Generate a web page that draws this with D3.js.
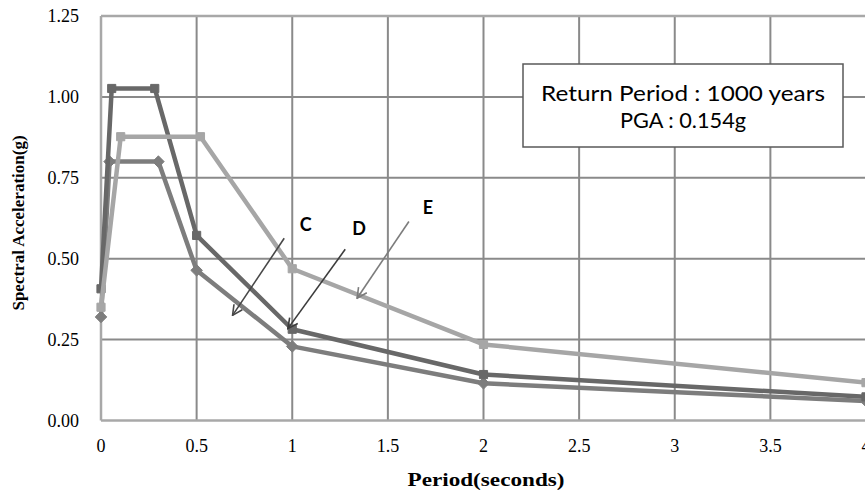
<!DOCTYPE html>
<html>
<head>
<meta charset="utf-8">
<script src="https://cdn.jsdelivr.net/npm/d3@7"></script>
<style>
  body { margin: 0; background: #fff; }
  svg { display: block; }
</style>
</head>
<body>
<div id="container"></div>
<script>
const width = 865,
      height = 493,
      margin = { top: 16, right: -1, bottom: 72, left: 101 };

// periods (s) and spectral acceleration (g) for each site class
const periodC = [0, 0.045, 0.30, 0.5, 1, 2, 4];
const accelC  = [0.32, 0.80, 0.80, 0.464, 0.229, 0.115, 0.060];

const periodD = [0, 0.056, 0.281, 0.5, 1, 2, 4];
const accelD  = [0.407, 1.026, 1.026, 0.572, 0.282, 0.142, 0.073];

const periodE = [0, 0.103, 0.52, 1, 2, 4];
const accelE  = [0.35, 0.877, 0.877, 0.469, 0.235, 0.117];

const xTicks = [0, 0.5, 1, 1.5, 2, 2.5, 3, 3.5, 4];
const yTicks = [0, 0.25, 0.5, 0.75, 1.0, 1.25];

// arrow annotations in data units
const noteLabels = ["C", "D", "E"];
const noteText   = [[1.07, 0.585], [1.35, 0.572], [1.71, 0.637]];
const noteFrom   = [[0.958, 0.563], [1.277, 0.529], [1.61, 0.615]];
const noteTo     = [[0.688, 0.325], [0.977, 0.284], [1.339, 0.378]];

const boxLines = ["Return Period : 1000 years", "PGA : 0.154g"];

const x = d3.scaleLinear()
    .domain([0, 4])
    .range([margin.left, width - margin.right]);

const y = d3.scaleLinear()
    .domain([0, 1.25])
    .range([height - margin.bottom - 0.5, margin.top]);

const svg = d3.select("#container").append("svg")
    .attr("width", width)
    .attr("height", height);

const defs = svg.append("defs");
[["arrDark", "#474747"], ["arrMid", "#3c3c3c"], ["arrLight", "#7c7c7c"]].forEach(function (m) {
    defs.append("marker")
        .attr("id", m[0])
        .attr("viewBox", "0 0 12 12")
        .attr("refX", 11).attr("refY", 6)
        .attr("markerWidth", 12).attr("markerHeight", 12)
        .attr("markerUnits", "userSpaceOnUse")
        .attr("orient", "auto")
        .append("path")
        .attr("d", "M1,1 L11,6 L1,11")
        .attr("fill", "none")
        .attr("stroke", m[1])
        .attr("stroke-width", 1.6);
});

// gridlines
svg.append("g")
    .selectAll("line")
    .data(xTicks.slice(1))
    .join("line")
    .attr("x1", d => x(d)).attr("x2", d => x(d))
    .attr("y1", y(1.25)).attr("y2", y(0))
    .attr("stroke", "#8a8a8a")
    .attr("stroke-width", 2);

svg.append("g")
    .selectAll("line")
    .data(yTicks.slice(1, -1))
    .join("line")
    .attr("x1", x(0)).attr("x2", x(4))
    .attr("y1", d => y(d)).attr("y2", d => y(d))
    .attr("stroke", "#8a8a8a")
    .attr("stroke-width", 2);

// plot border / axes
svg.append("line")
    .attr("x1", x(0)).attr("x2", x(4))
    .attr("y1", y(1.25)).attr("y2", y(1.25))
    .attr("stroke", "#a8a8a8").attr("stroke-width", 2.5);

svg.append("line")
    .attr("x1", x(0)).attr("x2", x(0))
    .attr("y1", y(1.25)).attr("y2", y(0))
    .attr("stroke", "#a8a8a8").attr("stroke-width", 2.5);

svg.append("line")
    .attr("x1", x(0)).attr("x2", x(4))
    .attr("y1", y(0)).attr("y2", y(0))
    .attr("stroke", "#a8a8a8").attr("stroke-width", 2.5);

// tick labels
svg.append("g")
    .selectAll("text")
    .data(yTicks)
    .join("text")
    .attr("x", 79)
    .attr("y", d => y(d) + 6)
    .attr("text-anchor", "end")
    .style("font-family", "'Liberation Serif', serif")
    .style("font-size", "18px")
    .text(d => d3.format(".2f")(d));

svg.append("g")
    .selectAll("text")
    .data(xTicks)
    .join("text")
    .attr("x", d => x(d))
    .attr("y", 452)
    .attr("text-anchor", "middle")
    .style("font-family", "'Liberation Serif', serif")
    .style("font-size", "18px")
    .text(d => d);

// axis titles
svg.append("text")
    .attr("x", 486)
    .attr("y", 486)
    .attr("text-anchor", "middle")
    .attr("textLength", 157)
    .attr("lengthAdjust", "spacingAndGlyphs")
    .style("font-family", "'Liberation Serif', serif")
    .style("font-size", "18px")
    .style("font-weight", "bold")
    .text("Period(seconds)");

svg.append("text")
    .attr("transform", "translate(24, 223) rotate(-90)")
    .attr("text-anchor", "middle")
    .style("font-family", "'Liberation Serif', serif")
    .style("font-size", "17px")
    .style("font-weight", "bold")
    .text("Spectral Acceleration(g)");

// series
const series = [
    { name: "C", px: periodC, py: accelC, color: "#7d7d7d", marker: "diamond" },
    { name: "D", px: periodD, py: accelD, color: "#686868", marker: "square" },
    { name: "E", px: periodE, py: accelE, color: "#a6a6a6", marker: "square" }
];

const line = d3.line()
    .x(d => x(d[0]))
    .y(d => y(d[1]));

series.forEach(function (s) {
    const pts = s.px.map((p, i) => [p, s.py[i]]);
    const g = svg.append("g");
    g.append("path")
        .datum(pts)
        .attr("d", line)
        .attr("fill", "none")
        .attr("stroke", s.color)
        .attr("stroke-width", 4.5)
        .attr("stroke-linejoin", "round");
    const sym = d3.symbol()
        .type(s.marker === "diamond" ? d3.symbolDiamond2 : d3.symbolSquare2)
        .size(85);
    g.selectAll("path.mk")
        .data(pts)
        .join("path")
        .attr("class", "mk")
        .attr("transform", d => `translate(${x(d[0])}, ${y(d[1])})`)
        .attr("d", sym)
        .attr("fill", s.color)
        .attr("stroke", s.color)
        .attr("stroke-width", 1);
});

// annotation arrows
const arrowColors = ["#474747", "#3c3c3c", "#7c7c7c"];
const arrowIds = ["arrDark", "arrMid", "arrLight"];
noteLabels.forEach(function (lab, i) {
    svg.append("line")
        .attr("x1", x(noteFrom[i][0])).attr("y1", y(noteFrom[i][1]))
        .attr("x2", x(noteTo[i][0])).attr("y2", y(noteTo[i][1]))
        .attr("stroke", arrowColors[i])
        .attr("stroke-width", 1.6)
        .attr("marker-end", `url(#${arrowIds[i]})`);
    svg.append("text")
        .attr("x", x(noteText[i][0]))
        .attr("y", y(noteText[i][1]))
        .attr("text-anchor", "middle")
        .style("font-family", "Lato, 'Open Sans', sans-serif")
        .style("font-size", "18px")
        .style("font-weight", "bold")
        .text(lab);
});

// return period box
const box = svg.append("g");
box.append("rect")
    .attr("x", 523).attr("y", 64)
    .attr("width", 320).attr("height", 83)
    .attr("fill", "#fff")
    .attr("stroke", "#595959")
    .attr("stroke-width", 1.5);

box.selectAll("text")
    .data(boxLines)
    .join("text")
    .attr("x", 683)
    .attr("y", (d, i) => 101 + i * 27)
    .attr("text-anchor", "middle")
    .attr("textLength", (d, i) => i === 0 ? 284 : 126)
    .attr("lengthAdjust", "spacingAndGlyphs")
    .style("font-family", "Lato, 'Open Sans', sans-serif")
    .style("font-size", "21px")
    .text(d => d);
</script>
</body>
</html>
